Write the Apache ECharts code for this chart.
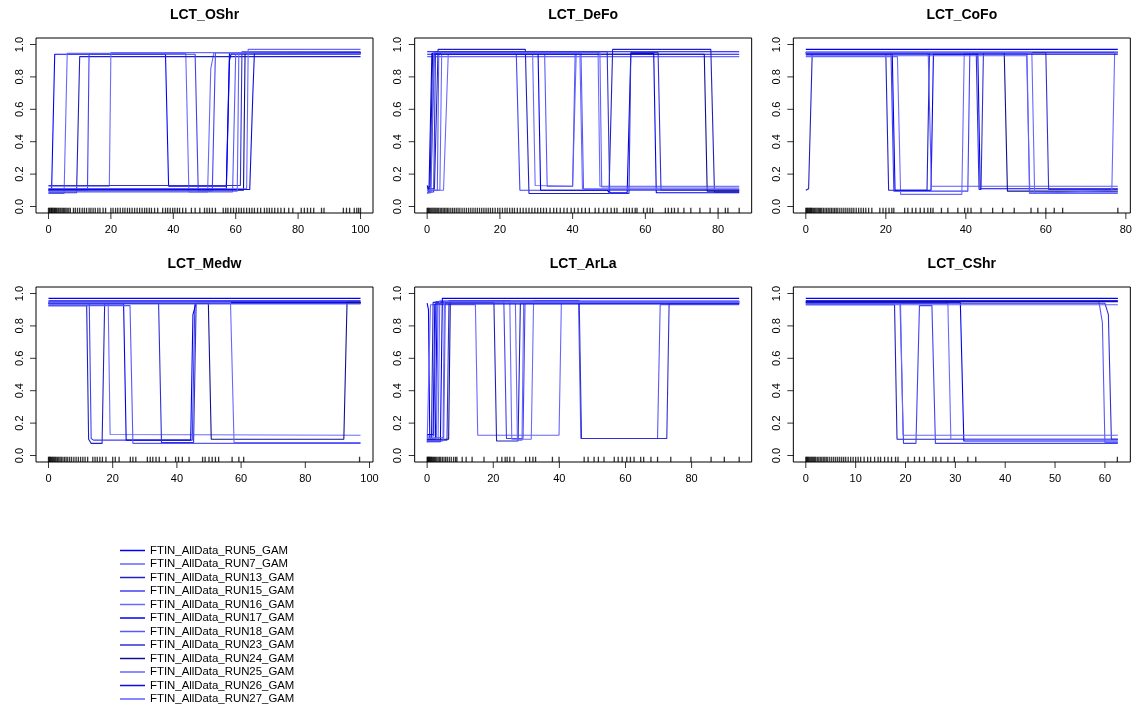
<!DOCTYPE html>
<html><head><meta charset="utf-8">
<script src="https://cdn.jsdelivr.net/npm/echarts@6/dist/echarts.min.js"></script>
<style>html,body{margin:0;padding:0;background:#fff}#c{width:1136px;height:711px}</style>
</head><body><div id="c"></div><script>
// ---------- DATA ----------
const panelTitles = ['LCT_OShr','LCT_DeFo','LCT_CoFo','LCT_Medw','LCT_ArLa','LCT_CShr'];
const runNames = ['FTIN_AllData_RUN5_GAM','FTIN_AllData_RUN7_GAM','FTIN_AllData_RUN13_GAM','FTIN_AllData_RUN15_GAM',
  'FTIN_AllData_RUN16_GAM','FTIN_AllData_RUN17_GAM','FTIN_AllData_RUN18_GAM','FTIN_AllData_RUN23_GAM',
  'FTIN_AllData_RUN24_GAM','FTIN_AllData_RUN25_GAM','FTIN_AllData_RUN26_GAM','FTIN_AllData_RUN27_GAM'];
const runColors = ['#0000ff','#6666ff','#2020c0','#4040f4','#6a6aff','#0000f0','#5858fa','#3030d4','#101090','#6666ff','#0c0ce0','#5f5fff'];
const xMaxes = [100, 85.8, 78, 97.2, 94.4, 62.6];
const xTicks = [[0,20,40,60,80,100],[0,20,40,60,80],[0,20,40,60,80],[0,20,40,60,80,100],[0,20,40,60,80],[0,10,20,30,40,50,60]];
const yTicks = [0,0.2,0.4,0.6,0.8,1];

const curvesOShr = [
 [[0,0.10],[1,0.10],[2,0.94],[37.5,0.94],[38.5,0.125],[57,0.125],[58,0.95],[100,0.95]],
 [[0,0.08],[5,0.08],[6,0.945],[44,0.945],[45,0.09],[51,0.09],[52,0.85],[53,0.95],[100,0.95]],
 [[0,0.085],[9,0.085],[10,0.925],[100,0.925]],
 [[0,0.10],[12.5,0.10],[13,0.94],[47,0.94],[48,0.095],[52.5,0.095],[53.5,0.95],[100,0.95]],
 [[0,0.125],[19.5,0.125],[20,0.95],[100,0.95]],
 [[0,0.11],[57,0.11],[58,0.9],[58.5,0.94],[100,0.94]],
 [[0,0.09],[59,0.09],[60,0.94],[100,0.94]],
 [[0,0.13],[61.5,0.13],[62,0.955],[100,0.955]],
 [[0,0.10],[62.5,0.10],[63,0.95],[100,0.95]],
 [[0,0.11],[63.5,0.11],[64,0.97],[100,0.97]],
 [[0,0.105],[64.5,0.105],[65.5,0.7],[66,0.95],[100,0.95]],
 [[0,0.095],[60.5,0.095],[61,0.95],[100,0.945]]
];
const curvesDeFo = [
 [[0,0.955],[85.8,0.955]],
 [[0,0.925],[85.8,0.925]],
 [[0,0.11],[2,0.11],[3,0.97],[27,0.97],[28,0.08],[50,0.08],[51,0.97],[78,0.97],[79,0.09],[85.8,0.09]],
 [[0,0.085],[1,0.085],[2,0.95],[24.5,0.95],[25.5,0.10],[85.8,0.10]],
 [[0,0.10],[4.5,0.10],[5.8,0.94],[29,0.94],[29.7,0.13],[40,0.125],[41,0.95],[47,0.95],[47.5,0.125],[85.8,0.125]],
 [[0,0.13],[0.5,0.09],[1.3,0.945],[30.5,0.945],[31.2,0.10],[49.5,0.10],[50.3,0.085],[55,0.085],[56,0.945],[62.3,0.945],[63,0.085],[85.8,0.085]],
 [[0,0.10],[2.8,0.10],[3.2,0.95],[32.3,0.95],[33,0.125],[40,0.125],[40.7,0.95],[42.3,0.95],[43,0.105],[85.8,0.105]],
 [[0,0.09],[1.8,0.09],[2.3,0.955],[49.5,0.955],[50.2,0.08],[55.5,0.08],[56,0.95],[63.5,0.95],[64.3,0.10],[85.8,0.10]],
 [[0,0.12],[0.8,0.12],[1.5,0.94],[76.2,0.94],[77,0.095],[85.8,0.095]],
 [[0,0.10],[3.5,0.10],[4,0.945],[42,0.945],[42.7,0.11],[85.8,0.11]],
 [[0,0.94],[85.8,0.94]],
 [[0,0.08],[1,0.09],[1.8,0.95],[47.5,0.95],[48,0.12],[85.8,0.12]]
];
const curvesCoFo = [
 [[0,0.97],[78,0.97]],
 [[0,0.955],[78,0.955]],
 [[0,0.10],[0.7,0.11],[1.6,0.945],[20,0.945],[20.7,0.10],[30.3,0.10],[30.9,0.95],[78,0.95]],
 [[0,0.94],[21.3,0.94],[22,0.095],[40.5,0.095],[41,0.95],[78,0.95]],
 [[0,0.925],[22.9,0.925],[23.7,0.075],[39,0.075],[39.6,0.945],[55.3,0.945],[55.9,0.08],[78,0.08]],
 [[0,0.95],[21.6,0.95],[22.3,0.10],[31.3,0.10],[31.9,0.94],[43,0.94],[43.6,0.11],[78,0.11]],
 [[0,0.945],[30.6,0.945],[31.4,0.125],[78,0.125]],
 [[0,0.95],[42.6,0.95],[43.3,0.105],[43.8,0.105],[44.4,0.95],[60,0.95],[60.7,0.105],[78,0.105]],
 [[0,0.95],[49.6,0.95],[50.4,0.095],[78,0.095]],
 [[0,0.95],[56.5,0.95],[57.2,0.08],[76.5,0.10],[77.2,0.95],[78,0.95]],
 [[0,0.94],[78,0.94]],
 [[0,0.93],[55.2,0.93],[56,0.085],[78,0.085]]
];
const curvesMedw = [
 [[0,0.97],[97.2,0.97]],
 [[0,0.95],[97.2,0.95]],
 [[0,0.925],[11.9,0.925],[12.5,0.10],[13.3,0.075],[16.7,0.075],[17.5,0.94],[97.2,0.94]],
 [[0,0.94],[12.7,0.94],[13.3,0.105],[14,0.095],[44.8,0.095],[45.6,0.94],[97.2,0.94]],
 [[0,0.945],[18.6,0.945],[19.2,0.13],[97.2,0.125]],
 [[0,0.935],[23.4,0.935],[24.2,0.095],[44.3,0.095],[45,0.87],[46,0.945],[97.2,0.945]],
 [[0,0.925],[25.4,0.925],[26.3,0.075],[97.2,0.075]],
 [[0,0.94],[34.3,0.94],[35.2,0.08],[45.2,0.08],[46,0.94],[97.2,0.94]],
 [[0,0.94],[49.8,0.94],[50.7,0.10],[92,0.10],[93,0.945],[97.2,0.945]],
 [[0,0.945],[56.7,0.945],[57.8,0.08],[97.2,0.08]],
 [[0,0.955],[97.2,0.955]],
 [[0,0.935],[97.2,0.935]]
];
const curvesArLa = [
 [[0,0.94],[0.4,0.90],[0.8,0.10],[2.5,0.10],[3,0.95],[94.4,0.95]],
 [[0,0.08],[0.5,0.09],[1,0.93],[14.6,0.93],[15.3,0.125],[39.9,0.125],[40.6,0.94],[94.4,0.94]],
 [[0,0.10],[1.3,0.10],[1.8,0.945],[20.2,0.945],[21,0.09],[27.5,0.09],[28.2,0.94],[94.4,0.94]],
 [[0,0.12],[2,0.12],[2.6,0.95],[23.2,0.95],[24,0.105],[29,0.105],[29.6,0.94],[94.4,0.94]],
 [[0,0.09],[3.3,0.09],[3.8,0.955],[25,0.955],[25.6,0.10],[31.5,0.10],[32.2,0.955],[94.4,0.955]],
 [[0,0.085],[4,0.085],[4.6,0.97],[94.4,0.97]],
 [[0,0.11],[5,0.11],[5.5,0.94],[45.8,0.94],[46.5,0.105],[69.7,0.105],[70.5,0.93],[94.4,0.93]],
 [[0,0.095],[6,0.095],[6.6,0.955],[46,0.955],[46.7,0.105],[72.5,0.105],[73.2,0.94],[94.4,0.94]],
 [[0,0.10],[6.5,0.10],[7,0.95],[94.4,0.95]],
 [[0,0.105],[2.8,0.105],[3.3,0.94],[26.7,0.94],[27.3,0.095],[28.7,0.095],[29.2,0.945],[94.4,0.945]],
 [[0,0.13],[1.8,0.13],[2.3,0.935],[94.4,0.935]],
 [[0,0.09],[4.8,0.09],[5.2,0.95],[94.4,0.95]]
];
const curvesCShr = [
 [[0,0.97],[62.6,0.97]],
 [[0,0.955],[62.6,0.955]],
 [[0,0.93],[17.8,0.93],[18.3,0.10],[62.6,0.10]],
 [[0,0.945],[18.9,0.945],[19.6,0.075],[22.1,0.075],[22.8,0.925],[25.3,0.925],[26,0.075],[62.6,0.075]],
 [[0,0.94],[28.5,0.94],[29.1,0.10],[62.6,0.10]],
 [[0,0.945],[31,0.945],[31.7,0.09],[62.6,0.09]],
 [[0,0.95],[58.8,0.95],[59.5,0.82],[60,0.08],[62.6,0.08]],
 [[0,0.94],[60,0.94],[60.7,0.87],[61.3,0.10],[62.6,0.10]],
 [[0,0.95],[62.6,0.95]],
 [[0,0.935],[19,0.935],[19.5,0.125],[62.6,0.125]],
 [[0,0.955],[62.6,0.955]],
 [[0,0.93],[62.6,0.93]]
];

const rugOShr = [0,0.3,0.5,0.8,1,1.2,1.5,1.8,2,2.3,2.6,3,3.3,3.7,4,4.4,4.8,5.2,5.6,6,6.5,7,8,8.6,9.3,10,10.8,11.5,12.2,13,13.6,14.3,15,15.8,16.5,17.5,18.3,20,20.7,21.5,22.2,23,23.8,24.5,25.3,26,26.8,27.6,28.4,29.2,30,30.8,31.5,32.3,33,34,35,36.6,37.5,38.2,39,39.8,40.5,41.3,42,43,44,45.8,47,48.5,50,50.8,51.6,52.5,53.5,56,56.8,57.5,58.4,59.3,60.2,61,61.8,62.6,63.5,64.4,65.2,66,67,68,69.2,70,70.8,71.6,72.5,73.5,74.5,75.6,77,78.3,81,82,83,84,85,87.5,88.3,94.5,95.5,96.5,98,98.8,99.4,100];
const rugDeFo = [0,0.2,0.4,0.7,1,1.3,1.6,1.9,2.2,2.5,2.9,3.2,3.6,4,4.4,4.8,5.2,5.6,6,6.5,7,7.5,8,8.5,9,9.6,10.2,10.8,11.4,12,12.6,13.2,13.8,14.4,15,15.6,16.2,16.8,17.4,18,18.7,19.4,20,20.7,21.4,22,22.7,23.4,24,24.8,25.6,26.4,27.2,28,28.8,29.6,30.4,31.2,32,32.8,33.8,34.8,35.6,36.6,37.6,38.5,39.6,40.5,41.5,42.5,43.5,44.6,46.2,47.2,48.5,49.5,50.6,51.5,52.2,54,54.8,55.6,56.4,57.2,57.7,59.5,60.5,61.3,62,65.5,66.3,67.2,68,69,70.6,72.5,75,77.8,80,82,82.7,85.8];
const rugCoFo = [0,0.2,0.4,0.6,0.8,1,1.2,1.4,1.6,1.9,2.2,2.5,2.8,3.1,3.4,3.7,4,4.4,4.8,5.2,5.6,6,6.4,6.8,7.2,7.6,8,8.5,9,9.5,10,10.5,11,11.5,12,12.6,13.2,13.8,14.4,15,15.7,16.5,18.5,19.3,20,20.8,21.5,22,24.7,25.5,26.6,27.5,28.6,29.6,30.5,31.2,31.8,33.9,35.5,38,39.7,40.5,41.3,43.8,46.7,49.2,52.1,56.3,58,60,62.1,64.2,78];
const rugMedw = [0,0.2,0.4,0.6,0.9,1.2,1.5,1.8,2.1,2.4,2.8,3.2,3.6,4,4.5,5,5.5,6,6.6,7.2,7.9,8.6,9.3,10,10.7,11.4,12.2,13.8,14.5,15.2,16,16.8,17.9,20,20.8,22,25.5,26.3,27.2,30.8,31.7,32.5,33.5,34.5,36.5,39.6,40.5,41.7,43.8,48,48.8,50,51,52,53,57.2,59.3,60.8,96.9];
const rugArLa = [0,0.15,0.3,0.5,0.7,0.9,1.1,1.3,1.6,1.9,2.2,2.5,2.9,3.3,3.7,4.1,4.6,5.1,5.6,6.1,6.7,7.3,8,8.6,9,10.6,11.8,13.6,17.2,21.2,22.6,23.6,24.2,25,26.3,29.8,31,32,32.8,37.9,39.9,47.5,48.7,50.5,51.8,53.5,56.6,57.8,59,60.4,61.5,62.6,64.6,65.5,67.7,69.7,73.7,79.8,85.9,89.9,94.4];
const rugCShr = [0,0.15,0.3,0.45,0.6,0.8,1,1.2,1.4,1.6,1.8,2,2.3,2.6,2.9,3.2,3.5,3.8,4.1,4.4,4.8,5.2,5.6,6,6.4,6.8,7.2,7.6,8,8.5,9,9.5,10,10.5,11,11.7,12.4,13,13.8,14.5,15,15.8,16.5,17.2,18,18.5,20.5,21.8,22.8,23.8,25.5,26.1,27.1,28.5,29.8,32.5,34.1,62.5];

const allCurves = [curvesOShr, curvesDeFo, curvesCoFo, curvesMedw, curvesArLa, curvesCShr];
const allRugs = [rugOShr, rugDeFo, rugCoFo, rugMedw, rugArLa, rugCShr];

// ---------- LAYOUT ----------
const FONT = '"Liberation Sans", Arial, Helvetica, sans-serif';
const gridLefts = [36, 414.67, 793.33];
const gridTops = [38, 287];
const W = 337, H = 175;
const YMIN = -0.04, YMAX = 1.04;
const RUG_PX = 5.25;
const TICK = 6;

const option = {
  animation: false, backgroundColor: '#fff',
  title: [], grid: [], xAxis: [], yAxis: [], series: [],
  legend: {
    orient: 'vertical', left: 120, top: 545, padding: 0,
    itemWidth: 25, itemHeight: 1.5, itemGap: 2.5, icon: 'rect',
    selectedMode: false, data: runNames,
    textStyle: { fontSize: 11.4, fontFamily: FONT, color: '#000', lineHeight: 11 }
  }
};
const hiddenAxis = (gi, min, max) => ({ type: 'value', gridIndex: gi, min, max, show: false,
  axisLine: { show: false, onZero: false }, splitLine: { show: false } });

// main plotting grids (indices 0..5)
panelTitles.forEach((name, i) => {
  const col = i % 3, row = Math.floor(i / 3);
  const left = gridLefts[col], top = gridTops[row];
  const xm = xMaxes[i];
  option.grid.push({ left, top, width: W, height: H, show: true, borderColor: '#000', borderWidth: 1,
    backgroundColor: 'transparent', outerBoundsMode: 'none' });
  option.title.push({ text: name, left: left + W / 2, top: top - 30, textAlign: 'center', padding: 0,
    textStyle: { fontFamily: FONT, fontSize: 14, fontWeight: 'bold', color: '#000' } });
  option.xAxis.push({ type: 'value', gridIndex: i, min: -0.04 * xm, max: 1.04 * xm, position: 'bottom',
    axisLine: { show: false, onZero: false }, splitLine: { show: false }, axisTick: { show: false },
    axisLabel: { customValues: xTicks[i], margin: 11.5, fontSize: 11, color: '#000', fontFamily: FONT,
      formatter: v => String(Math.round(v)) } });
  option.yAxis.push({ type: 'value', gridIndex: i, min: YMIN, max: YMAX, position: 'left',
    axisLine: { show: false, onZero: false }, splitLine: { show: false }, axisTick: { show: false },
    axisLabel: { customValues: yTicks, margin: 11, rotate: 90, fontSize: 11, color: '#000', fontFamily: FONT,
      formatter: v => v.toFixed(1) } });
  allCurves[i].forEach((c, k) => {
    option.series.push({ type: 'line', name: runNames[k], xAxisIndex: i, yAxisIndex: i, data: c,
      showSymbol: false, symbol: 'none', silent: true,
      lineStyle: { color: runColors[k], width: 1.1 }, itemStyle: { color: runColors[k] } });
  });
  const rugY = YMIN + (RUG_PX / 2) / H * (YMAX - YMIN);
  option.series.push({ type: 'scatter', name: 'rug' + i, xAxisIndex: i, yAxisIndex: i,
    data: allRugs[i].map(x => [x, rugY]), symbol: 'rect', symbolSize: [1.3, RUG_PX], silent: true,
    itemStyle: { color: '#000' } });
});

// tick strips just outside each box; tick marks are scatter symbols placed at the tick values
panelTitles.forEach((name, i) => {
  const col = i % 3, row = Math.floor(i / 3);
  const left = gridLefts[col], top = gridTops[row];
  const xm = xMaxes[i];
  // y ticks strip (left of the box)
  const gy = option.grid.length;
  option.grid.push({ left: left - TICK, top, width: TICK, height: H, outerBoundsMode: 'none' });
  const xa = option.xAxis.length; option.xAxis.push(hiddenAxis(gy, 0, 1));
  const ya = option.yAxis.length; option.yAxis.push(hiddenAxis(gy, YMIN, YMAX));
  option.series.push({ type: 'scatter', name: 'ytick' + i, xAxisIndex: xa, yAxisIndex: ya,
    data: yTicks.map(v => [0.5, v]), symbol: 'rect', symbolSize: [TICK, 1], silent: true,
    itemStyle: { color: '#000' } });
  // x ticks strip (below the box)
  const gx = option.grid.length;
  option.grid.push({ left, top: top + H, width: W, height: TICK, outerBoundsMode: 'none' });
  const xb = option.xAxis.length; option.xAxis.push(hiddenAxis(gx, -0.04 * xm, 1.04 * xm));
  const yb = option.yAxis.length; option.yAxis.push(hiddenAxis(gx, 0, 1));
  option.series.push({ type: 'scatter', name: 'xtick' + i, xAxisIndex: xb, yAxisIndex: yb,
    data: xTicks[i].map(v => [v, 0.5]), symbol: 'rect', symbolSize: [1, TICK], silent: true,
    itemStyle: { color: '#000' } });
});

const chart = echarts.init(document.getElementById('c'), null, { renderer: 'canvas' });
chart.setOption(option);
</script></body></html>
